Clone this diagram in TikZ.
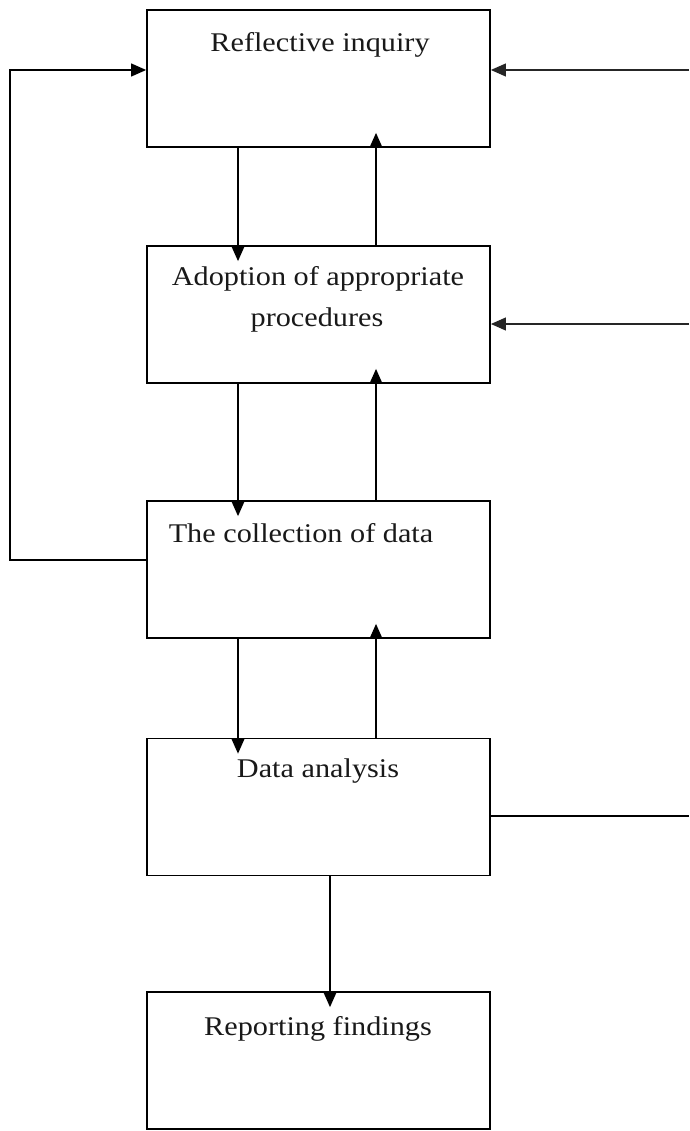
\documentclass[tikz,border=0pt]{standalone}
\usepackage{fontspec}
\setmainfont{Liberation Serif}[FakeStretch=1.12]
\usetikzlibrary{arrows.meta,calc}
\begin{document}
\begin{tikzpicture}[x=1pt,y=-1pt,
  stagebox/.style={draw=black, line width=1.8pt, minimum width=343pt, minimum height=137pt, inner sep=0pt},
  caption/.style={anchor=base, inner sep=0pt, text=black!90, font=\fontsize{27}{40}\selectfont},
  link/.style={draw=black, line width=1.2pt, -{Triangle[length=15pt,width=13pt]}},
  plain/.style={draw=black, line width=1.2pt},
  feed/.style={draw=black!85, line width=1.1pt, -{Triangle[length=15pt,width=13pt]}}]
  \useasboundingbox (0,0) rectangle (689,1131);
  \fill[white] (0,0) rectangle (689,1131);

  % the five stages
  \node[stagebox] (s1) at (318.5,78.5) {};
  \node[stagebox] (s2) at (318.5,314.5) {};
  \node[stagebox] (s3) at (318.5,569.5) {};
  \node[stagebox] (s4) at (318.5,807) {};
  \node[stagebox] (s5) at (318.5,1060.5) {};

  % stage captions
  \node[caption] (t1) at (320,52) {Reflective inquiry};
  \node[caption] (t2a) at (318,286) {Adoption of appropriate};
  \node[caption] (t2b) at (317,326) {procedures};
  \node[caption] (t3) at (301,542) {The collection of data};
  \node[caption] (t4) at (318,777) {Data analysis};
  \node[caption] (t5) at (318,1035) {Reporting findings};

  % downward and upward links between neighbouring stages
  \foreach \a/\b in {s1/s2, s2/s3, s3/s4} {
    \draw[link, shorten >=-16pt] ([xshift=-80.5pt]\a.south) -- ([xshift=-80.5pt]\b.north);
    \draw[link, shorten >=-15pt] ([xshift=57.5pt]\b.north) -- ([xshift=57.5pt]\a.south);
  }
  \draw[link, shorten >=-16pt] ([xshift=11.5pt]s4.south) -- ([xshift=11.5pt]s5.north);

  % loop on the left from data collection back to inquiry
  \coordinate (lcorner) at (10,560);
  \draw[link] ([yshift=9.5pt]s3.west) -- (lcorner) |- ([yshift=8.5pt]s1.west);

  % feedback on the right
  \coordinate (r1) at (689,70);
  \coordinate (r2) at (689,324);
  \coordinate (r4) at (689,816);
  \draw[feed] (r1) -- ([yshift=8.5pt]s1.east);
  \draw[feed] (r2) -- ([yshift=-9.5pt]s2.east);
  \draw[plain] ([yshift=-9pt]s4.east) -- (r4);
\end{tikzpicture}
\end{document}
